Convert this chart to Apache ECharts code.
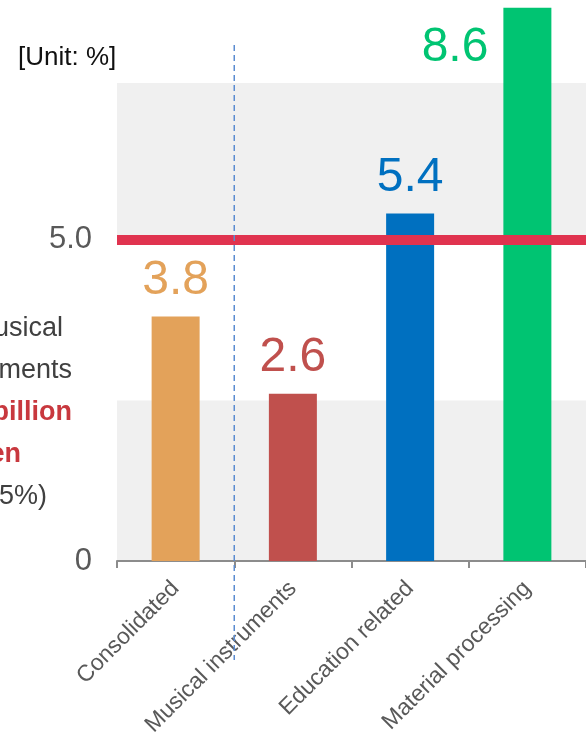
<!DOCTYPE html>
<html>
<head>
<meta charset="utf-8">
<script src="https://cdn.jsdelivr.net/npm/echarts@6/dist/echarts.min.js"></script>
<style>
html,body{margin:0;padding:0;background:#fff;}
#chart{width:586px;height:739px;}
</style>
</head>
<body>
<div id="chart"></div>
<script>
// ---- data ----
var categories = ['Consolidated', 'Musical instruments', 'Education related', 'Material processing'];
var values = [3.8, 2.6, 5.4, 8.6];
var targetValue = 5.0;
var yTickLabels = { 0: '0', 5: '5.0' };
var unitLabel = '[Unit: %]';
var noteLines = ['Musical', 'instruments', '¥-- billion', 'yen', '(+-.5%)'];

// ---- styles ----
var barColors = ['#e3a25a', '#c0504d', '#0070c0', '#00c472'];
var FONT = 'Liberation Sans, Arial, sans-serif';

var chart = echarts.init(document.getElementById('chart'), null, {renderer: 'canvas'});

var dataItems = values.map(function (v, i) {
  var item = {
    value: v,
    itemStyle: { color: barColors[i] },
    label: { color: barColors[i] }
  };
  if (i === values.length - 1) {
    item.label = { color: barColors[i], position: [-15, 40], align: 'right', verticalAlign: 'middle' };
  }
  return item;
});

chart.setOption({
  animation: false,
  textStyle: { fontFamily: FONT },
  grid: { left: 117, width: 474, top: 83, height: 480, containLabel: false },
  xAxis: {
    type: 'category',
    data: categories,
    axisLine: { show: true, lineStyle: { color: '#8c8c8c', width: 2 } },
    axisTick: { show: true, length: 7, lineStyle: { color: '#8c8c8c', width: 2 } },
    axisLabel: { rotate: 45, fontSize: 23, color: '#595959', margin: 24, fontFamily: FONT }
  },
  yAxis: {
    type: 'value',
    min: 0,
    max: 7.43,
    interval: 2.5,
    axisLine: { show: false },
    axisTick: { show: false },
    splitLine: { show: false },
    splitArea: { show: true, areaStyle: { color: ['#f0f0f0', '#ffffff'] } },
    axisLabel: {
      fontSize: 31, color: '#595959', margin: 25, fontFamily: FONT,
      formatter: function (v) { return yTickLabels[v] !== undefined ? yTickLabels[v] : ''; }
    }
  },
  series: [{
    type: 'bar',
    data: dataItems,
    barWidth: 48,
    clip: false,
    label: {
      show: true, position: 'top', distance: 12, fontSize: 48, fontFamily: FONT,
      formatter: function (p) { return p.value.toFixed(1); }
    },
    markLine: {
      silent: true,
      symbol: ['none', 'none'],
      label: { show: false },
      lineStyle: { color: '#e0334f', width: 10, type: 'solid' },
      data: [{ yAxis: targetValue }]
    },
    z: 3
  }]
});

function addGraphics() {
  var x0 = chart.convertToPixel({ xAxisIndex: 0 }, 0);
  var x1 = chart.convertToPixel({ xAxisIndex: 0 }, 1);
  var sepX = (x0 + x1) / 2;
  var noteRight = [63, 72, 72, 21, 47];
  var noteBold = [false, false, true, true, false];
  var elements = [
    {
      type: 'line', z: 10,
      shape: { x1: sepX, y1: 45, x2: sepX, y2: 660 },
      style: { stroke: '#5b8bd0', lineWidth: 1.5, lineDash: [6, 4] }
    },
    {
      type: 'text', left: 18, top: 45,
      style: { text: unitLabel, fill: '#111', font: '26px ' + FONT }
    }
  ];
  noteLines.forEach(function (t, i) {
    elements.push({
      type: 'text',
      x: noteRight[i], y: 329 + i * 42,
      style: {
        text: t, textAlign: 'right', textVerticalAlign: 'middle',
        fill: noteBold[i] ? '#c8383e' : '#404040',
        font: (noteBold[i] ? 'bold ' : '') + '27px ' + FONT
      }
    });
  });
  chart.setOption({ graphic: elements });
}
addGraphics();
</script>
</body>
</html>
